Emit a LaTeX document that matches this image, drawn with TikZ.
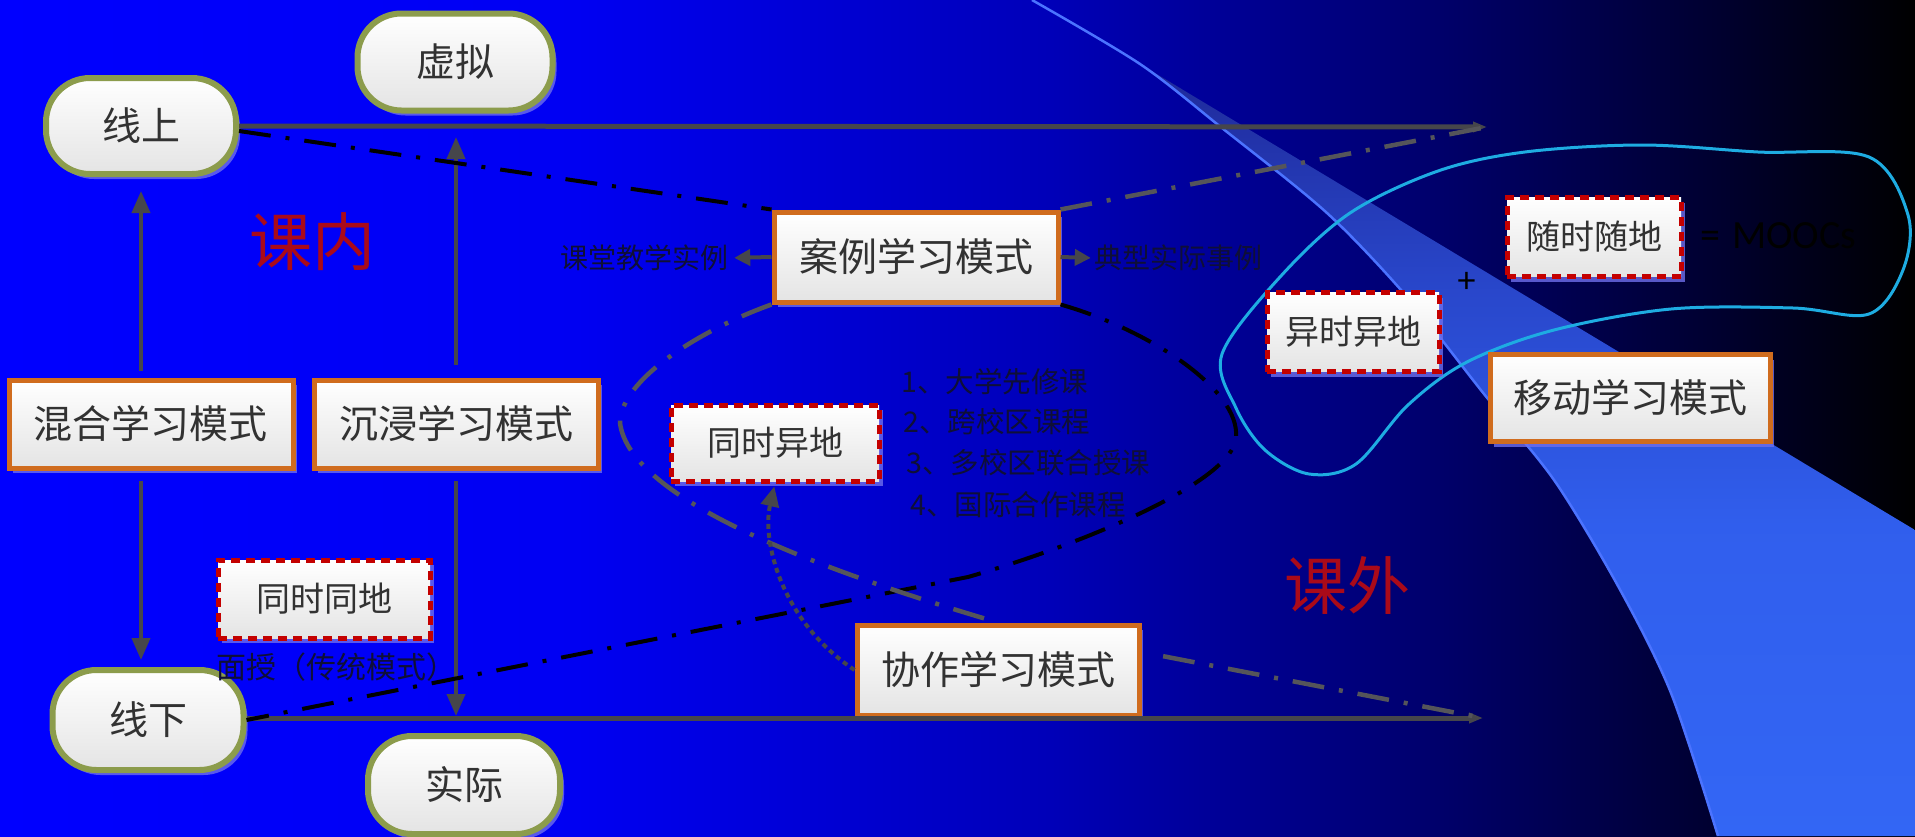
\documentclass[tikz,border=0pt]{standalone}
\usepackage{fontspec}
\setmainfont{Noto Sans CJK SC}
\newfontfamily\latinfont{Carlito}
\usetikzlibrary{arrows.meta,shadows,calc}
\definecolor{pillborder}{RGB}{140,156,76}
\definecolor{modeborder}{RGB}{208,108,30}
\definecolor{redborder}{RGB}{196,0,0}
\definecolor{boxtext}{RGB}{50,50,50}
\definecolor{darktext}{RGB}{15,15,55}
\definecolor{gline}{RGB}{70,70,75}
\definecolor{gdashc}{RGB}{85,85,90}
\definecolor{cyanline}{RGB}{30,172,226}
\definecolor{swline}{RGB}{75,115,255}
\definecolor{kered}{RGB}{170,10,25}
\definecolor{shadowc}{RGB}{110,110,235}
\definecolor{boxbottom}{RGB}{228,228,228}
\pgfdeclarehorizontalshading{bgshade}{100bp}{rgb(0bp)=(0,0,1); rgb(25bp)=(0,0,1); rgb(40bp)=(0,0,0.95); rgb(52.5bp)=(0,0,0.72); rgb(62.5bp)=(0,0,0.42); rgb(70bp)=(0,0,0.18); rgb(75bp)=(0,0,0); rgb(100bp)=(0,0,0)}
\pgfdeclareverticalshading{swshade}{100bp}{rgb(0bp)=(0.2,0.4,0.96); rgb(25bp)=(0.2,0.4,0.96); rgb(45bp)=(0.19,0.37,0.93); rgb(60bp)=(0.16,0.28,0.8); rgb(75bp)=(0.12,0.16,0.6); rgb(100bp)=(0.12,0.16,0.6)}
\tikzset{
  boxshadow/.style={drop shadow={shadow xshift=4pt, shadow yshift=-5pt, fill=shadowc, opacity=0.8}},
  pill/.style={draw=pillborder, line width=6pt, rounded corners=44pt, top color=white, bottom color=boxbottom,
    minimum width=190pt, minimum height=96pt, inner sep=0pt, text=boxtext, font=\fontsize{39}{41}\selectfont, boxshadow},
  modebox/.style={draw=modeborder, line width=5pt, top color=white, bottom color=boxbottom,
    minimum width=284pt, minimum height=88pt, inner sep=0pt, text=boxtext, font=\fontsize{39}{41}\selectfont, boxshadow},
  redbox/.style={draw=redborder, line width=5pt, dash pattern=on 9pt off 6pt, top color=white, bottom color=boxbottom,
    minimum width=210pt, minimum height=78pt, inner sep=0pt, text=boxtext, font=\fontsize{34}{36}\selectfont, boxshadow},
  smalltext/.style={text=darktext, inner sep=0pt, font=\fontsize{28}{30}\selectfont},
  listtext/.style={text=darktext, inner sep=0pt, anchor=west, font=\fontsize{28.5}{30}\selectfont},
  bigred/.style={text=kered, inner sep=0pt, font=\fontsize{63}{65}\selectfont},
  hline/.style={draw=gline, line width=5pt, -{Triangle[length=14pt,width=10pt]}},
  garrow/.style={draw=gline, line width=4pt, -{Triangle[length=22pt,width=18pt]}},
  sarrow/.style={draw=gline, line width=4pt, -{Triangle[length=16pt,width=16pt]}},
  bdash/.style={draw=black, line width=4pt, dash pattern=on 32pt off 15pt on 4pt off 15pt},
  gdash/.style={draw=gdashc, line width=4.5pt, dash pattern=on 32pt off 15pt on 4pt off 15pt},
  dotarrow/.style={draw=gline, line width=4pt, dash pattern=on 5pt off 4pt, -{Triangle[length=20pt,width=18pt]}},
}
\begin{document}
\begin{tikzpicture}[x=1pt,y=-1pt]
\useasboundingbox (0,0) rectangle (1915,836);
\shade[shading=bgshade] (0,0) rectangle (1915,836);
% light swoosh
\shade[shading=swshade] plot[smooth] coordinates {(1140,64) (1222,128) (1327,213) (1408,298) (1484,394) (1554,480) (1618,586) (1671,693) (1718,836)} -- (1915,836) -- (1915,530) -- cycle;
\draw[swline, line width=2.5pt] plot[smooth] coordinates {(1032,0) (1140,64) (1222,128) (1327,213) (1408,298) (1484,394) (1554,480) (1618,586) (1671,693) (1718,836)};

% cyan closed curve
\draw[cyanline, line width=3pt] plot[smooth cycle, tension=0.55] coordinates {(1222,354) (1236,408) (1265,450) (1309,474) (1356,464) (1408,405) (1467,362) (1554,330) (1671,309) (1793,308) (1869,314) (1903,270) (1908,215) (1869,157) (1758,152) (1642,145) (1525,152) (1438,171) (1350,213) (1280,277)};

% nodes
\node[pill] (xianshang) at (141,126) {线上};
\node[pill, minimum width=195pt, minimum height=97pt] (xuni) at (455,62) {虚拟};
\node[pill, minimum width=191pt, minimum height=100pt] (xianxia) at (148,720) {线下};
\node[pill, minimum width=192pt, minimum height=98pt] (shiji) at (464,785) {实际};

\node[modebox] (hunhe) at (151,424) {混合学习模式};
\node[modebox] (chenjin) at (456,424) {沉浸学习模式};
\node[modebox, minimum height=90pt] (anli) at (916,257) {案例学习模式};
\node[modebox, minimum width=282pt, minimum height=90pt] (xiezuo) at (998,670) {协作学习模式};
\node[modebox, minimum width=280pt, minimum height=87pt] (yidong) at (1630,398) {移动学习模式};

\node[redbox, minimum width=212pt] (tongdi) at (324,599) {同时同地};
\node[redbox, minimum width=208pt, minimum height=76pt] (tongyi) at (775,443) {同时异地};
\node[redbox, minimum width=172pt, minimum height=79pt] (yiyi) at (1353,332) {异时异地};
\node[redbox, minimum width=174pt, minimum height=79pt] (suishi) at (1594,237) {随时随地};

\node[smalltext] (ketang) at (644,258) {课堂教学实例};
\node[smalltext] (dianxing) at (1178,258) {典型实际事例};
\node[smalltext, font=\fontsize{30}{32}\selectfont] (mianshou) at (336,667) {面授（传统模式）};

\node[listtext] (l1) at (901,382) {1、大学先修课};
\node[listtext] (l2) at (903,422) {2、跨校区课程};
\node[listtext] (l3) at (906,463) {3、多校区联合授课};
\node[listtext] (l4) at (910,505) {4、国际合作课程};

\node[bigred] (kenei) at (312,242) {课内};
\node[bigred] (kewai) at (1347,585) {课外};

\node[text=black, inner sep=0pt, anchor=west, font=\latinfont\fontsize{40}{42}\selectfont] (mooc) at (1700,236) {=\hspace{12pt}MOOCs};
\node[text=black, inner sep=0pt, font=\fontsize{34}{36}\selectfont] (plus) at (1467,283) {+};

% coordinates at the ends of the two long lines
\coordinate (topend) at (1487,127);
\coordinate (botend) at (1483,718);

% long horizontal lines
\draw[hline] (xianshang.east) -- (topend);
\draw[hline] (xianxia.east |- botend) -- (botend);

% vertical arrows
\draw[garrow, shorten <=7pt, shorten >=14pt] (xianshang.south |- hunhe.north) -- (xianshang.south);
\draw[garrow, shorten <=10pt, shorten >=7pt] (xianshang.south |- hunhe.south) -- (xianshang.south |- xianxia.north);
\draw[garrow, shorten <=13pt, shorten >=10pt] (chenjin.north) -- (chenjin.north |- topend);
\draw[garrow, shorten <=10pt, shorten >=2pt] (chenjin.south) -- (chenjin.south |- botend);

% case arrows
\draw[sarrow, shorten >=6pt] (anli.west) -- (ketang.east);
\draw[sarrow, shorten >=3pt] (anli.east) -- (dianxing.west);

% dash-dot lines
\draw[bdash] ([yshift=-5pt]xianshang.east) -- (anli.north west);
\draw[gdash] (anli.north east) -- (topend);
\draw[bdash] (anli.south east) .. controls (1150,330) and (1240,390) .. (1236,437)
   .. controls (1234,482) and (1080,545) .. (968,577) -- (xianxia.east);
\draw[gdash] (anli.south west) .. controls (700,330) and (620,380) .. (620,423)
   .. controls (630,500) and (820,570) .. (xiezuo.north);
\draw[gdash, shorten <=22pt] ([yshift=18pt]xiezuo.east) -- (botend);

% dotted arrow
\draw[dotarrow, shorten >=3pt] (xiezuo.west) .. controls (780,620) and (762,540) .. (tongyi.south);
\end{tikzpicture}
\end{document}
